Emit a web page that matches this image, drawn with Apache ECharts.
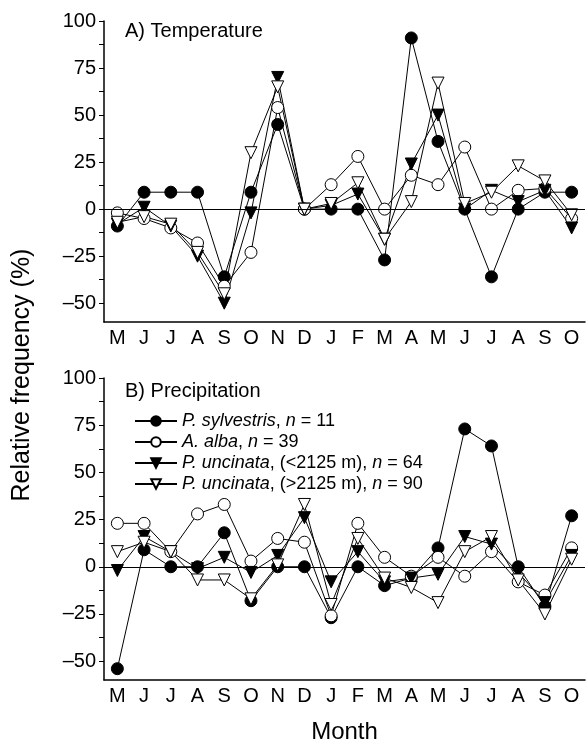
<!DOCTYPE html>
<html>
<head>
<meta charset="utf-8">
<script src="https://cdn.jsdelivr.net/npm/echarts@6/dist/echarts.min.js"></script>
<style>
  html, body { margin: 0; padding: 0; background: #fff; }
  #chart { width: 588px; height: 748px; }
</style>
</head>
<body>
<div id="chart"></div>
<script>
// month axis, May of year t-1 to October of year t
const months = ["M", "J", "J", "A", "S", "O", "N", "D", "J", "F", "M", "A", "M", "J", "J", "A", "S", "O"];
const yLabelValues = [-50, -25, 0, 25, 50, 75, 100];
const yTickValues = [-50, -37.5, -25, -12.5, 0, 12.5, 25, 37.5, 50, 62.5, 75, 87.5, 100];

// A) Temperature
const tempSylvestris = [-9, 9, 9, 9, -36, 9, 45, 0, 0, 0, -27, 91, 36, 0, -36, 0, 9, 9];
const tempAlba = [-2, -5, -10, -18, -41, -23, 54, 0, 13, 28, 0, 18, 13, 33, 0, 10, 11, -5];
const tempUncLow = [-8, 1, -9, -25, -50, -2, 70, 0, 2, 8, -16, 24, 50, 0, 10, 4, 10, -10];
const tempUncHigh = [-7, -4, -8, -23, -45, 30, 65, 0, 3, 14, -16, 4, 67, 3, 9, 23, 15, -3];

// B) Precipitation
const precSylvestris = [-54, 9, 0, 0, 18, -18, 0, 0, -27, 0, -10, -6, 10, 73, 64, 0, -21, 27];
const precAlba = [23, 23, 8, 28, 33, 3, 15, 13, -26, 23, 5, -5, 5, -5, 8, -8, -15, 10];
const precUncLow = [-2, 16, 8, -1, 5, -3, 6, 26, -8, 8, -8, -6, -4, 16, 12, -3, -19, 6];
const precUncHigh = [8, 13, 8, -7, -7, -17, 1, 33, -20, 15, -6, -11, -19, 8, 16, -7, -25, 4];

const names = ["sylvestris", "alba", "uncLow", "uncHigh"];
const legendLabels = {
  sylvestris: "{i|P. sylvestris}, {i|n} = 11",
  alba: "{i|A. alba}, {i|n} = 39",
  uncLow: "{i|P. uncinata}, (<2125 m), {i|n} = 64",
  uncHigh: "{i|P. uncinata}, (>2125 m), {i|n} = 90"
};

const font = "Liberation Sans, Arial, sans-serif";

const markerStyle = {
  sylvestris: { symbol: "circle", symbolSize: 12, symbolRotate: 0, fill: "#000" },
  alba: { symbol: "circle", symbolSize: 12, symbolRotate: 0, fill: "#fff" },
  uncLow: { symbol: "triangle", symbolSize: 12, symbolRotate: 180, fill: "#000" },
  uncHigh: { symbol: "triangle", symbolSize: 12, symbolRotate: 180, fill: "#fff" }
};

function makeSeries(name, data, idx) {
  const m = markerStyle[name];
  return {
    name: name,
    type: "line",
    xAxisIndex: idx,
    yAxisIndex: idx,
    data: data,
    symbol: m.symbol,
    symbolSize: m.symbolSize,
    symbolRotate: m.symbolRotate,
    showAllSymbol: true,
    animation: false,
    lineStyle: { color: "#000", width: 1 },
    itemStyle: { color: m.fill, borderColor: "#000", borderWidth: 1, opacity: 1 }
  };
}

function zeroLine(idx) {
  return {
    type: "line",
    xAxisIndex: idx,
    yAxisIndex: idx,
    data: [],
    silent: true,
    z: 1,
    markLine: {
      silent: true,
      symbol: "none",
      animation: false,
      label: { show: false },
      lineStyle: { color: "#000", width: 1, type: "solid" },
      data: [{ yAxis: 0 }]
    }
  };
}

function xAxisOpt(idx) {
  return {
    type: "category",
    gridIndex: idx,
    data: months,
    boundaryGap: true,
    axisLine: { onZero: false, lineStyle: { color: "#000", width: 1.5 } },
    axisTick: { alignWithLabel: true, length: 5, lineStyle: { color: "#000", width: 1 } },
    axisLabel: { color: "#000", fontSize: 20, fontFamily: font, margin: 6, interval: 0 },
    splitLine: { show: false },
    name: idx === 1 ? "Month" : "",
    nameLocation: "middle",
    nameGap: 40,
    nameTextStyle: { color: "#000", fontSize: 24, fontFamily: font }
  };
}

function yAxisOpt(idx) {
  return {
    type: "value",
    gridIndex: idx,
    min: -60,
    max: 100,
    axisLine: { show: true, lineStyle: { color: "#000", width: 1.5 } },
    axisTick: { show: true, length: 5, customValues: yTickValues, lineStyle: { color: "#000", width: 1 } },
    axisLabel: {
      color: "#000", fontSize: 20, fontFamily: font, margin: 8,
      customValues: yLabelValues,
      formatter: (v) => (v < 0 ? "\u2013" + (-v) : String(v))
    },
    splitLine: { show: false }
  };
}

const series = [];
[tempSylvestris, tempAlba, tempUncLow, tempUncHigh].forEach((d, i) => series.push(makeSeries(names[i], d, 0)));
[precSylvestris, precAlba, precUncLow, precUncHigh].forEach((d, i) => series.push(makeSeries(names[i], d, 1)));
series.push(zeroLine(0));
series.push(zeroLine(1));

const myChart = echarts.init(document.getElementById("chart"), null, { renderer: "canvas" });
const option = {
  backgroundColor: "#fff",
  animation: false,
  textStyle: { fontFamily: font, color: "#000" },
  title: [
    { text: "A) Temperature", left: 125, top: 21, padding: 0, textStyle: { fontSize: 20, fontWeight: "normal", color: "#000", fontFamily: font } },
    { text: "B) Precipitation", left: 125, top: 381, padding: 0, textStyle: { fontSize: 20, fontWeight: "normal", color: "#000", fontFamily: font } }
  ],
  legend: {
    data: names,
    orient: "vertical",
    left: 134,
    top: 412,
    padding: 0,
    itemWidth: 42,
    itemHeight: 12,
    itemGap: 3,
    formatter: (n) => legendLabels[n],
    textStyle: {
      fontSize: 18, lineHeight: 18, color: "#000", fontFamily: font,
      rich: { i: { fontStyle: "italic", fontSize: 18, lineHeight: 18, color: "#000", fontFamily: font } }
    }
  },
  grid: [
    { left: 104, top: 21, width: 481, height: 301 },
    { left: 104, top: 378, width: 481, height: 302 }
  ],
  xAxis: [xAxisOpt(0), xAxisOpt(1)],
  yAxis: [yAxisOpt(0), yAxisOpt(1)],
  graphic: [
    {
      type: "text",
      x: 22,
      y: 375,
      rotation: Math.PI / 2,
      style: {
        text: "Relative frequency (%)",
        fontSize: 25,
        fontFamily: font,
        fill: "#000",
        align: "center",
        verticalAlign: "middle"
      }
    }
  ],
  series: series
};
myChart.setOption(option);
window.addEventListener("resize", () => {
  myChart.resize();
});
</script>
</body>
</html>
